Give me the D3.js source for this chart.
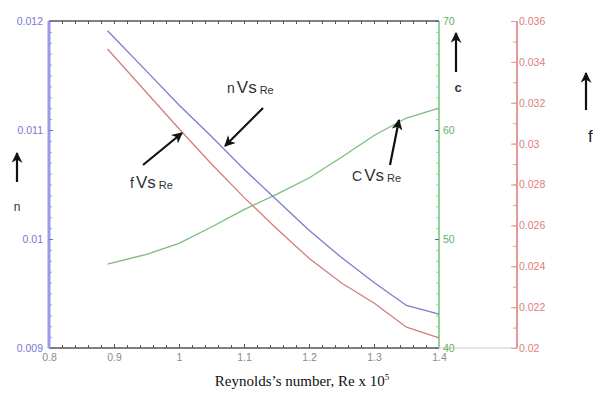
<!doctype html>
<html>
<head>
<meta charset="UTF-8">
<title>Re chart</title>
<script src="https://d3js.org/d3.v7.min.js"></script>
<style>
  body { margin: 0; background: #fff; }
  text { font-family: "Liberation Sans", Arial, sans-serif; }
</style>
</head>
<body>
<script>
var re = [0.89, 0.95, 1.0, 1.05, 1.1, 1.15, 1.2, 1.25, 1.3, 1.35, 1.4];
var nVals = [0.01191, 0.01154, 0.01123, 0.01094, 0.01064, 0.01036, 0.01008, 0.00983, 0.00960, 0.00939, 0.00931];
var fVals = [0.03463, 0.03250, 0.03073, 0.02900, 0.02737, 0.02585, 0.02439, 0.02318, 0.02220, 0.02102, 0.02049];
var cVals = [47.7, 48.6, 49.6, 51.1, 52.7, 54.1, 55.6, 57.5, 59.5, 61.1, 62.0];

var xTicks = [0.8, 0.9, 1, 1.1, 1.2, 1.3, 1.4];
var nTicks = [0.009, 0.01, 0.011, 0.012];
var cTicks = [40, 50, 60, 70];
var fTicks = [0.02, 0.022, 0.024, 0.026, 0.028, 0.03, 0.032, 0.034, 0.036];

var w = 593, h = 396;
var pLeft = 49, pRight = 439, pTop = 21, pBottom = 348, redX = 517;

var svg = d3.select("body").append("svg").attr("width", w).attr("height", h);

var x = d3.scaleLinear().domain([0.8, 1.4]).range([pLeft, pRight]);
var yN = d3.scaleLinear().domain([0.009, 0.012]).range([pBottom, pTop]);
var yC = d3.scaleLinear().domain([40, 70]).range([pBottom, pTop]);
var yF = d3.scaleLinear().domain([0.02, 0.036]).range([pBottom, pTop]);

function fmt(d){ return String(+d.toFixed(4)); }
function minor(a, b, step){
  var out = [];
  for (var v = a; v <= b + step / 2; v += step) out.push(+v.toFixed(6));
  return out;
}

function styleAxis(g, col, txtCol, width){
  g.select(".domain").attr("stroke", col).attr("stroke-width", width);
  g.selectAll(".tick line").attr("stroke", col).attr("stroke-width", 1);
  g.selectAll("text").attr("fill", txtCol).attr("font-size", 10.5);
}

// grey extension of x axis to red axis
svg.append("line").attr("x1", pRight).attr("x2", redX).attr("y1", pBottom).attr("y2", pBottom)
  .attr("stroke", "#ccc").attr("stroke-width", 1);

// top axis
var gt = svg.append("g").attr("transform", "translate(0," + pTop + ")")
  .call(d3.axisTop(x).tickValues(minor(0.8, 1.4, 0.02)).tickSize(-3).tickFormat(""));
styleAxis(gt, "#555", "#555", 1.5);
gt.select(".domain").attr("d", "M" + pLeft + ",0H" + pRight);

// bottom axis
var gbm = svg.append("g").attr("transform", "translate(0," + pBottom + ")")
  .call(d3.axisBottom(x).tickValues(minor(0.8, 1.4, 0.02)).tickSize(-3).tickFormat(""));
styleAxis(gbm, "#555", "#555", 1.5);
gbm.select(".domain").attr("d", "M" + pLeft + ",0H" + pRight);
var gb = svg.append("g").attr("transform", "translate(0," + pBottom + ")")
  .call(d3.axisBottom(x).tickValues(xTicks).tickSize(-4).tickPadding(6).tickFormat(fmt));
styleAxis(gb, "#555", "#8a8a8a", 0);
gb.select(".domain").remove();

// left n axis
var glm = svg.append("g").attr("transform", "translate(" + pLeft + ",0)")
  .call(d3.axisLeft(yN).tickValues(minor(0.009, 0.012, 0.0001)).tickSize(-3).tickFormat(""));
styleAxis(glm, "#9a9ae6", "#7070d0", 3);
glm.select(".domain").attr("d", "M0," + pBottom + "V" + pTop);
var gl = svg.append("g").attr("transform", "translate(" + pLeft + ",0)")
  .call(d3.axisLeft(yN).tickValues(nTicks).tickSize(-4).tickPadding(6).tickFormat(fmt));
styleAxis(gl, "#6a6ad8", "#7878d4", 0);
gl.select(".domain").remove();

// green C axis
var gcm = svg.append("g").attr("transform", "translate(" + pRight + ",0)")
  .call(d3.axisRight(yC).tickValues(minor(40, 70, 1)).tickSize(-3).tickFormat(""));
styleAxis(gcm, "#93d393", "#60b060", 2);
gcm.select(".domain").attr("d", "M0," + pBottom + "V" + pTop);
var gc = svg.append("g").attr("transform", "translate(" + pRight + ",0)")
  .call(d3.axisRight(yC).tickValues(cTicks).tickSize(-4).tickPadding(4).tickFormat(fmt));
styleAxis(gc, "#5a5ac8", "#66b066", 0);
gc.select(".domain").remove();

// red f axis
var gfm = svg.append("g").attr("transform", "translate(" + redX + ",0)")
  .call(d3.axisRight(yF).tickValues(minor(0.02, 0.036, 0.001)).tickSize(-4).tickFormat(""));
styleAxis(gfm, "#e09a9a", "#d07070", 2);
gfm.select(".domain").attr("d", "M0," + pBottom + "V" + pTop);
var gf = svg.append("g").attr("transform", "translate(" + redX + ",0)")
  .call(d3.axisRight(yF).tickValues(fTicks).tickSize(-6).tickPadding(2).tickFormat(fmt));
styleAxis(gf, "#e09a9a", "#dc8080", 0);
gf.select(".domain").remove();

// curves
function drawLine(vals, yScale, col){
  var line = d3.line().x(function(d, i){ return x(re[i]); }).y(function(d){ return yScale(d); });
  svg.append("path").datum(vals).attr("d", line)
    .attr("fill", "none").attr("stroke", col).attr("stroke-width", 1.3);
}
drawLine(cVals, yC, "#7cbc7c");
drawLine(fVals, yF, "#d67c7c");
drawLine(nVals, yN, "#7c7cca");

// arrow marker
svg.append("defs").append("marker")
  .attr("id", "ah").attr("viewBox", "0 0 10 10").attr("refX", 9).attr("refY", 5)
  .attr("markerWidth", 5).attr("markerHeight", 5).attr("orient", "auto")
  .append("path").attr("d", "M0,0L10,5L0,10L3,5Z").attr("fill", "#111");

function arrow(x1, y1, x2, y2){
  svg.append("line").attr("x1", x1).attr("y1", y1).attr("x2", x2).attr("y2", y2)
    .attr("stroke", "#111").attr("stroke-width", 2.2).attr("marker-end", "url(#ah)");
}
arrow(263, 108, 225, 146);
arrow(143, 165, 182, 133);
arrow(390, 165, 399, 120);
arrow(17, 182, 17, 153);
arrow(456, 72, 456, 33);
arrow(586, 110, 586, 73);

function label(xp, yp, a){
  var t = svg.append("text").attr("x", xp).attr("y", yp).attr("fill", "#333");
  t.append("tspan").attr("font-size", 14).text(a);
  t.append("tspan").attr("font-size", 17).attr("dx", 2).text("Vs");
  t.append("tspan").attr("font-size", 11).attr("dx", 3).attr("dy", 1).text("Re");
}
label(227, 93, "n");
label(130, 188, "f");
label(352, 181, "C");

svg.append("text").attr("x", 17).attr("y", 211).attr("text-anchor", "middle")
  .attr("font-size", 12).attr("fill", "#333").text("n");
svg.append("text").attr("x", 458).attr("y", 92).attr("text-anchor", "middle")
  .attr("font-size", 13).attr("font-weight", "bold").attr("fill", "#333").text("c");
svg.append("text").attr("x", 588).attr("y", 142).attr("font-size", 17).attr("fill", "#222").text("f");

// x title
var xt = svg.append("text").attr("x", 302).attr("y", 386).attr("text-anchor", "middle")
  .style("font-family", "'Liberation Serif', 'Times New Roman', serif")
  .attr("font-size", 15).attr("fill", "#111");
xt.append("tspan").text("Reynolds\u2019s number, Re x 10");
xt.append("tspan").attr("font-size", 9).attr("dy", -6).text("5");
</script>
</body>
</html>
